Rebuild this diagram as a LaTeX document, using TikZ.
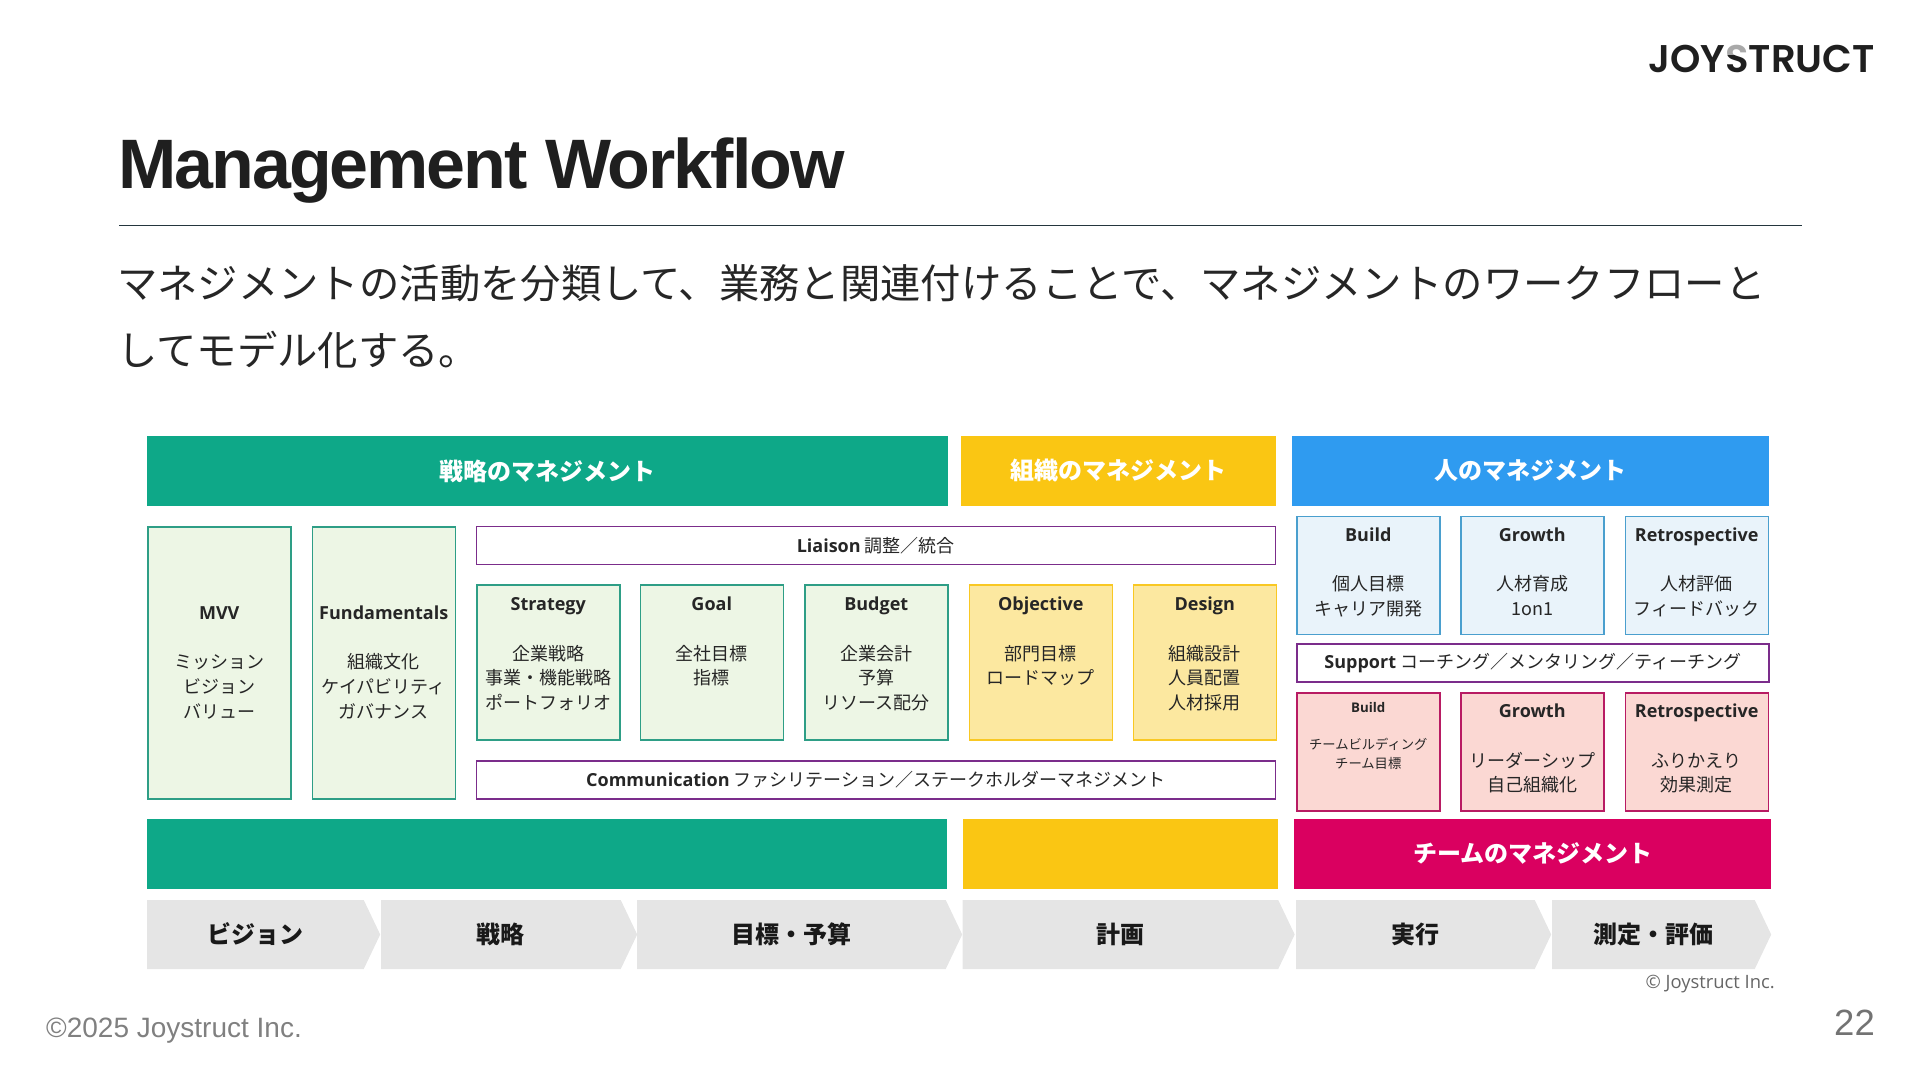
\documentclass[tikz,border=0pt]{standalone}
\usepackage{fontspec}
\setmainfont{Noto Sans CJK JP}
\newfontfamily\opensans{Open Sans}
\newfontfamily\liberation{Liberation Sans}
\newfontfamily\titlefont[LetterSpace=-2.9]{Liberation Sans}
\newfontfamily\logofont[BoldFont={Poppins SemiBold}]{Poppins}
\usetikzlibrary{shapes.symbols}
\definecolor{stratgreen}{HTML}{0EA888}
\definecolor{orgyellow}{HTML}{FAC613}
\definecolor{peopleblue}{HTML}{2F9BF0}
\definecolor{teampink}{HTML}{DA0060}
\definecolor{linkpurple}{HTML}{7B2D8B}
\definecolor{greenline}{HTML}{2E9E86}
\definecolor{greenfill}{HTML}{EDF6E5}
\definecolor{yellowline}{HTML}{F9C823}
\definecolor{yellowfill}{HTML}{FCE8A0}
\definecolor{blueline}{HTML}{4A9FCE}
\definecolor{bluefill}{HTML}{E9F3FA}
\definecolor{pinkline}{HTML}{B81B63}
\definecolor{pinkfill}{HTML}{FBD8D3}
\definecolor{ruleslate}{HTML}{24363E}
\newcommand{\hd}[1]{{\opensans\bfseries #1}}
\tikzstyle{bar}=[anchor=north west,inner sep=0,minimum height=69.5pt,text=white,font=\bfseries\fontsize{24}{30}\selectfont]
\tikzstyle{card}=[anchor=north west,inner sep=0,align=center,text width=143pt,line width=1.5pt,text=black!85,font=\fontsize{18}{24.7}\selectfont]
\tikzstyle{tall}=[card,text height=92.5pt,text depth=179.5pt]
\tikzstyle{mid}=[card,text height=26pt,text depth=129pt]
\tikzstyle{low}=[card,text height=25pt,text depth=93pt]
\tikzstyle{greencard}=[draw=greenline,fill=greenfill]
\tikzstyle{yellowcard}=[draw=yellowline,fill=yellowfill]
\tikzstyle{bluecard}=[draw=blueline,fill=bluefill]
\tikzstyle{pinkcard}=[draw=pinkline,fill=pinkfill]
\tikzstyle{link}=[anchor=north west,inner sep=0,draw=linkpurple,fill=white,line width=1.5pt,minimum height=38pt,text=black!85,font=\fontsize{18}{24}\selectfont]
\tikzstyle{stage}=[anchor=west,signal,signal to=east,signal from=nowhere,signal pointer angle=129,inner sep=0,minimum height=69pt,fill=black!10,text=black!90,font=\bfseries\fontsize{24}{30}\selectfont]
\begin{document}
\begin{tikzpicture}[x=1pt,y=-1pt]
\useasboundingbox (0,0) rectangle (1920,1080);
% head
\node[anchor=base west,inner sep=0,text=black!88] (title) at (118,188) {\titlefont\bfseries\fontsize{70}{70}\selectfont Management Workflow};
\coordinate (ruleL) at (119,225.7);
\coordinate (ruleR) at (1802,225.7);
\draw[line width=1.2pt,color=ruleslate] (ruleL)--(ruleR);
\node[anchor=west,inner sep=0,text=black!85,font=\fontsize{40.35}{48}\selectfont] (line1) at (117,283) {マネジメントの活動を分類して、業務と関連付けることで、マネジメントのワークフローと};
\node[anchor=west,inner sep=0,text=black!85,font=\fontsize{40.35}{48}\selectfont] (line2) at (117,350) {してモデル化する。};
\node[anchor=base east,inner sep=0,font=\logofont\bfseries\fontsize{38.6}{38}\selectfont,text=black!88] (logo) at (1875,72) {JOYSTRUCT};
\fill[white,opacity=.62] (1727,42) rectangle (1749,55);
% top bars
\node[bar,fill=stratgreen,minimum width=801pt] (stratbar) at (147,436) {戦略のマネジメント};
\node[bar,fill=orgyellow,minimum width=315pt] (orgbar) at (961,436) {組織のマネジメント};
\node[bar,fill=peopleblue,minimum width=477pt] (peoplebar) at (1292,436) {人のマネジメント};
% strategy cards
\node[tall,greencard] (mvv) at (147,526) {\hd{MVV}\\[24.7pt]ミッション\\ビジョン\\バリュー};
\node[tall,greencard] (fund) at (311.5,526) {\hd{Fundamentals}\\[24.7pt]組織文化\\ケイパビリティ\\ガバナンス};
\node[link,minimum width=799pt] (liaison) at (475.5,525.5) {\hd{Liaison} 調整／統合};
\node[mid,greencard] (strategy) at (476,584) {\hd{Strategy}\\[24.7pt]企業戦略\\事業・機能戦略\\ポートフォリオ};
\node[mid,greencard] (goal) at (639.5,584) {\hd{Goal}\\[24.7pt]全社目標\\指標};
\node[mid,greencard] (budget) at (804,584) {\hd{Budget}\\[24.7pt]企業会計\\予算\\リソース配分};
\node[mid,yellowcard] (objective) at (968.5,584) {\hd{Objective}\\[24.7pt]部門目標\\ロードマップ};
\node[mid,yellowcard] (design) at (1132.5,584) {\hd{Design}\\[24.7pt]組織設計\\人員配置\\人材採用};
\node[link,minimum width=799pt] (comm) at (475.5,760) {\hd{Communication} ファシリテーション／ステークホルダーマネジメント};
% people cards
\node[low,bluecard] (pbuild) at (1296,515.5) {\hd{Build}\\[24.7pt]個人目標\\キャリア開発};
\node[low,bluecard] (pgrowth) at (1460,515.5) {\hd{Growth}\\[24.7pt]人材育成\\1on1};
\node[low,bluecard] (pretro) at (1624.5,515.5) {\hd{Retrospective}\\[24.7pt]人材評価\\フィードバック};
\node[link,minimum width=472pt] (support) at (1296,643) {\hd{Support} コーチング／メンタリング／ティーチング};
\node[low,pinkcard,font=\fontsize{13.3}{19}\selectfont,text height=20pt,text depth=98pt] (tbuild) at (1296,692) {\hd{Build}\\[18pt]チームビルディング\\チーム目標};
\node[low,pinkcard] (tgrowth) at (1460,692) {\hd{Growth}\\[24.7pt]リーダーシップ\\自己組織化};
\node[low,pinkcard] (tretro) at (1624.5,692) {\hd{Retrospective}\\[24.7pt]ふりかえり\\効果測定};
% bottom bars
\node[bar,fill=stratgreen,minimum width=800pt] (stratlow) at (147,819) {};
\node[bar,fill=orgyellow,minimum width=315.5pt] (orglow) at (962.5,819) {};
\node[bar,fill=teampink,minimum width=477pt] (teambar) at (1294,819) {チームのマネジメント};
% stages
\node[stage,minimum width=233pt] (vision) at (147,934.5) {ビジョン};
\node[stage,minimum width=256pt] (senryaku) at (381,934.5) {戦略};
\node[stage,minimum width=325pt] (target) at (637,934.5) {目標・予算};
\node[stage,minimum width=332pt] (plan) at (962.5,934.5) {計画};
\node[stage,minimum width=255pt] (run) at (1296,934.5) {実行};
\node[stage,minimum width=219pt] (measure) at (1552,934.5) {測定・評価};
% foot
\node[anchor=east,inner sep=0,text=black!60,font=\opensans\fontsize{18.4}{20}\selectfont] (credit) at (1775,984) {© Joystruct Inc.};
\node[anchor=west,inner sep=0,text=black!50,font=\liberation\fontsize{28}{30}\selectfont] (copy) at (46,1031) {©2025 Joystruct Inc.};
\node[anchor=east,inner sep=0,text=black!55,font=\liberation\fontsize{36.5}{38}\selectfont] (page) at (1875,1023) {22};
\end{tikzpicture}
\end{document}
